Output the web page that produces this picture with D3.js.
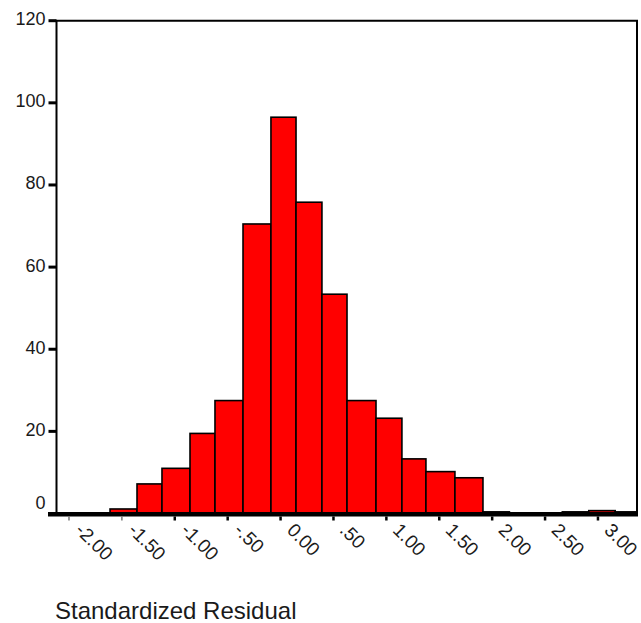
<!DOCTYPE html>
<html>
<head>
<meta charset="utf-8">
<script src="https://cdn.jsdelivr.net/npm/d3@7"></script>
<style>
  html, body { margin: 0; padding: 0; background: #fff; }
  svg { display: block; }
</style>
</head>
<body>
<svg id="chart" width="641" height="623"></svg>
<script>
// ---- data ----
const binEdges = [-1.612, -1.357, -1.121, -0.856, -0.620, -0.355, -0.091, 0.146, 0.391, 0.628,
                  0.902, 1.147, 1.374, 1.648, 1.913, 2.163, 2.413, 2.663, 2.913, 3.163, 3.369];
const counts   = [1.1, 7.2, 11, 19.5, 27.5, 70.5, 96.5, 75.8, 53.4, 27.5,
                  23.2, 13.3, 10.2, 8.7, 0.4, 0, 0, 0.4, 0.7, 0.4];
const xTicks = [-2, -1.5, -1, -0.5, 0, 0.5, 1, 1.5, 2, 2.5, 3];
const xTickLabels = ["-2.00", "-1.50", "-1.00", "-.50", "0.00", ".50", "1.00", "1.50", "2.00", "2.50", "3.00"];
const yTicks = [0, 20, 40, 60, 80, 100, 120];
const xTitle = "Standardized Residual";

const bins = counts.map((c, i) => ({ x0: binEdges[i], x1: binEdges[i + 1], count: c }));

const svg = d3.select("#chart");
const font = "'Liberation Sans', Arial, sans-serif";
const textColor = "#1a1a1a";

const x = d3.scaleLinear().domain([-2.118, 3.369]).range([56.5, 637]);
const y = d3.scaleLinear().domain([0, 120]).range([513.5, 20.7]);

// bars
svg.append("g")
  .selectAll("rect")
  .data(bins.filter(d => d.count > 0))
  .join("rect")
  .attr("x", d => x(d.x0))
  .attr("y", d => y(d.count))
  .attr("width", d => x(d.x1) - x(d.x0))
  .attr("height", d => y(0) - y(d.count))
  .attr("fill", "#ff0000")
  .attr("stroke", "#000")
  .attr("stroke-width", 1.6);

// frame (left, top, right)
const [xl, xr] = x.range();
const [yb, yt] = y.range();
svg.append("path")
  .attr("d", `M${xl},${yb} L${xl},${yt} L${xr},${yt} L${xr},${yb}`)
  .attr("fill", "none")
  .attr("stroke", "#000")
  .attr("stroke-width", 2);

// thick bottom axis line
svg.append("rect")
  .attr("x", 48).attr("y", yb - 1.5)
  .attr("width", xr + 1 - 48).attr("height", 4.5)
  .attr("fill", "#000");

// y axis ticks + labels
const yAxis = svg.append("g");
yAxis.selectAll("line")
  .data(yTicks)
  .join("line")
  .attr("x1", 48.5).attr("x2", xl)
  .attr("y1", d => y(d)).attr("y2", d => y(d))
  .attr("stroke", "#000")
  .attr("stroke-width", 3);
yAxis.selectAll("text")
  .data(yTicks)
  .join("text")
  .attr("x", 45.5)
  .attr("y", d => y(d) - (d === 0 ? 11 : 2))
  .attr("dy", "0.36em")
  .attr("text-anchor", "end")
  .attr("font-family", font)
  .attr("font-size", 18)
  .attr("fill", textColor)
  .text(d => d);

// x axis ticks + labels
const xAxis = svg.append("g");
xAxis.selectAll("line")
  .data(xTicks)
  .join("line")
  .attr("x1", d => x(d)).attr("x2", d => x(d))
  .attr("y1", yb + 3).attr("y2", yb + 7)
  .attr("stroke", (d, i) => i < 2 ? "#777" : "#000")
  .attr("stroke-width", (d, i) => i < 2 ? 1.5 : 2.5);
xAxis.selectAll("text")
  .data(xTicks)
  .join("text")
  .attr("transform", d => `translate(${x(d) + 15},${yb + 8}) rotate(45)`)
  .attr("dy", "0.72em")
  .attr("text-anchor", "start")
  .attr("font-family", font)
  .attr("font-size", 19)
  .attr("fill", textColor)
  .text((d, i) => xTickLabels[i]);

// x title
svg.append("text")
  .attr("x", 55)
  .attr("y", 619)
  .attr("font-family", font)
  .attr("font-size", 24)
  .attr("fill", textColor)
  .text(xTitle);
</script>
</body>
</html>
